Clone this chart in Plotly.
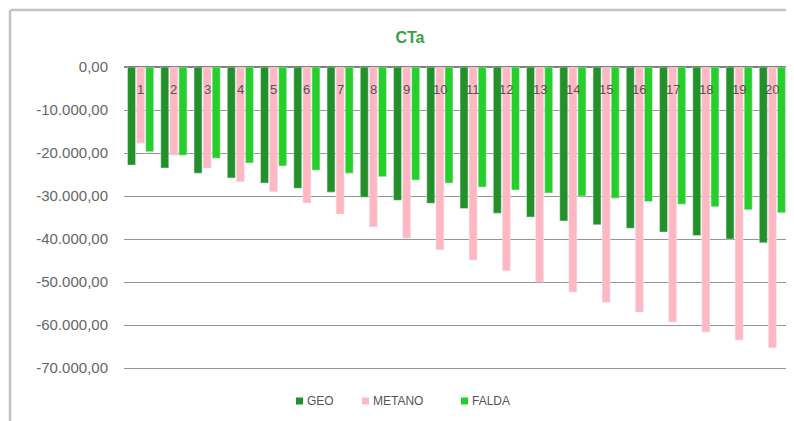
import plotly.graph_objects as go

categories = [str(i) for i in range(1, 21)]
geo = [-22800, -23500, -24700, -25800, -27000, -28200, -29100, -30300, -31000, -31700,
       -32900, -34000, -34900, -35800, -36700, -37500, -38400, -39200, -40000, -40900]
metano = [-17700, -20500, -23500, -26700, -29000, -31600, -34200, -37200, -39800, -42500,
          -44900, -47400, -50000, -52300, -54700, -57000, -59300, -61600, -63500, -65300]
falda = [-19700, -20500, -21200, -22300, -23000, -24000, -24700, -25500, -26300, -27000,
         -27900, -28600, -29300, -30000, -30500, -31300, -31900, -32500, -33200, -33900]
y_tickvals = [0, -10000, -20000, -30000, -40000, -50000, -60000, -70000]
y_ticktext = ["0,00", "-10.000,00", "-20.000,00", "-30.000,00", "-40.000,00",
              "-50.000,00", "-60.000,00", "-70.000,00"]
series_names = ["GEO", "METANO", "FALDA"]
series_colors = ["#23902a", "#ffb7c2", "#27cf2a"]

# the page body has an 8px margin, so the figure is offset by 8px
OFF = 8
W, H = 794 - OFF, 421 - OFF
L, R, T, B = 116, 5, 59, 53

font = "Liberation Sans, Arial, sans-serif"
grid_col = "#959595"

fig = go.Figure()
for name, vals, col in zip(series_names, [geo, metano, falda], series_colors):
    fig.add_trace(go.Bar(x=categories, y=vals, name=name, marker_color=col,
                         showlegend=False))

pw = W - L - R
ph = H - T - B
def px_x(p):
    return (p - L) / pw
def px_y(p):
    return (H - B - p) / ph

annotations = []
for i, c in enumerate(categories):
    annotations.append(dict(x=i, y=0, xref="x", yref="y", text=c, showarrow=False,
                            yshift=-22, font=dict(family=font, size=13, color="#555555")))

shapes = [
    dict(type="line", xref="paper", yref="paper", x0=px_x(2), x1=px_x(W + 5),
         y0=px_y(2), y1=px_y(2), line=dict(color="#c4c4c4", width=2.5)),
    dict(type="line", xref="paper", yref="paper", x0=px_x(2), x1=px_x(2),
         y0=px_y(2), y1=px_y(H + 5), line=dict(color="#c4c4c4", width=2.5)),
]

# custom legend (square swatch + text)
leg_sq_x = [288, 354, 453]
leg_y = 393
for name, col, sx in zip(series_names, series_colors, leg_sq_x):
    shapes.append(dict(type="rect", xref="paper", yref="paper",
                       x0=px_x(sx), x1=px_x(sx + 7), y0=px_y(leg_y - 3.5), y1=px_y(leg_y + 3.5),
                       fillcolor=col, line=dict(width=0)))
    annotations.append(dict(x=px_x(sx + 9), y=px_y(leg_y), xref="paper", yref="paper",
                            text=name, showarrow=False, xanchor="left", yanchor="middle",
                            font=dict(family=font, size=12, color="#555555")))

fig.update_layout(
    width=W, height=H,
    margin=dict(l=L, r=R, t=T, b=B),
    paper_bgcolor="white", plot_bgcolor="white",
    barmode="group", bargap=0.18, bargroupgap=0.12,
    title=dict(text="<b>CTa</b>", x=402 / W, xref="container", xanchor="center",
               y=1 - 29 / H, yref="container", yanchor="middle",
               font=dict(family=font, size=16, color="#3a9f4a")),
    font=dict(family=font, size=10, color="#555555"),
    showlegend=False,
    annotations=annotations,
    shapes=shapes,
)
# the x-axis line at the bottom of the plot area acts as the -70.000 gridline
fig.update_xaxes(showticklabels=False, showgrid=False, showline=True, linecolor=grid_col,
                 linewidth=1.2, side="bottom", zeroline=False, ticks="", type="category")
fig.update_yaxes(range=[y_tickvals[-1], y_tickvals[0]], tickvals=y_tickvals, ticktext=y_ticktext,
                 showgrid=True, gridcolor=grid_col, gridwidth=1.2, zeroline=True,
                 zerolinecolor="#808080", zerolinewidth=2, showline=False,
                 ticks="", ticklabelstandoff=15,
                 tickfont=dict(family=font, size=15, color="#666666"))

fig.write_html("out.html")
